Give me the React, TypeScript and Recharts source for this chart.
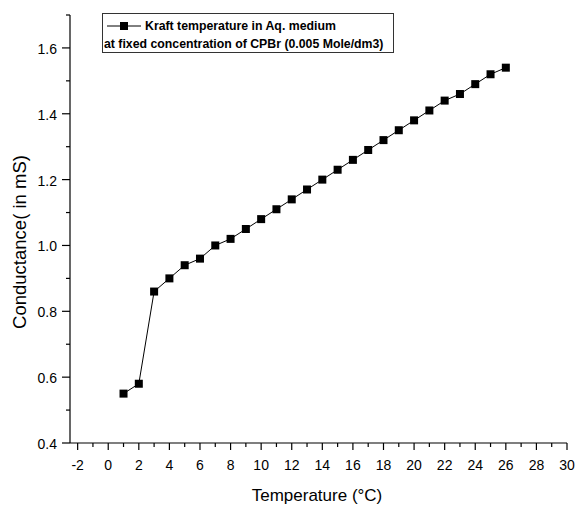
import { LineChart, Line, XAxis, YAxis } from 'recharts'

const temperatures = [1, 2, 3, 4, 5, 6, 7, 8, 9, 10, 11, 12, 13, 14, 15, 16, 17, 18, 19, 20, 21, 22, 23, 24, 25, 26]
const conductance = [
  0.55, 0.58, 0.86, 0.9, 0.94, 0.96, 1.0, 1.02, 1.05, 1.08, 1.11, 1.14, 1.17,
  1.2, 1.23, 1.26, 1.29, 1.32, 1.35, 1.38, 1.41, 1.44, 1.46, 1.49, 1.52, 1.54,
]
const xTicks = [-2, -1, 0, 1, 2, 3, 4, 5, 6, 7, 8, 9, 10, 11, 12, 13, 14, 15, 16, 17, 18, 19, 20, 21, 22, 23, 24, 25, 26, 27, 28, 29, 30]
const yTicks = [0.4, 0.5, 0.6, 0.7, 0.8, 0.9, 1.0, 1.1, 1.2, 1.3, 1.4, 1.5, 1.6, 1.7]
const legendLines = ['Kraft temperature in Aq. medium', 'at fixed concentration of CPBr (0.005 Mole/dm3)']

const data = temperatures.map((t, i) => ({ t, c: conductance[i] }))

const FONT = '"Liberation Sans", Arial, sans-serif'

function XTick({ x, y, payload }: any) {
  const v = payload.value
  const major = v % 2 === 0
  return (
    <g>
      <line x1={x} y1={y} x2={x} y2={y + (major ? 7 : 4)} stroke="#000" strokeWidth={1.2} />
      {major && (
        <text x={x} y={y + 27} textAnchor="middle" fontSize={14} fontFamily={FONT} fill="#000">
          {v}
        </text>
      )}
    </g>
  )
}

function YTick({ x, y, payload }: any) {
  const v = payload.value
  const major = Math.round(v * 10) % 2 === 0
  return (
    <g>
      <line x1={x} y1={y} x2={x - (major ? 8 : 4)} y2={y} stroke="#000" strokeWidth={1.2} />
      {major && (
        <text x={x - 13} y={y + 6} textAnchor="end" fontSize={14} fontFamily={FONT} fill="#000">
          {v.toFixed(1)}
        </text>
      )}
    </g>
  )
}

function SquareDot({ cx, cy }: any) {
  if (cx == null || cy == null) return null
  return <rect x={cx - 4} y={cy - 4} width={8} height={8} fill="#000" />
}

function YTitle() {
  return (
    <text
      x={19}
      y={242}
      transform="rotate(-90, 19, 242)"
      textAnchor="middle"
      dominantBaseline="central"
      fontSize={18.5}
      fontFamily={FONT}
      fill="#000"
    >
      Conductance( in mS)
    </text>
  )
}

function XTitle() {
  return (
    <text x={317} y={495} textAnchor="middle" dominantBaseline="central" fontSize={17} fontFamily={FONT} fill="#000">
      Temperature (°C)
    </text>
  )
}

export default function App() {
  return (
    <div style={{ position: 'absolute', left: 0, top: 0, width: 578, height: 507, background: '#fff' }}>
      <LineChart width={578} height={507} data={data} margin={{ top: 15, right: 11, bottom: 14, left: 0 }}>
        <XAxis
          dataKey="t"
          type="number"
          domain={[-2.5, 30]}
          ticks={xTicks}
          interval={0}
          height={50}
          tickSize={0}
          tickMargin={0}
          tick={<XTick />}
          axisLine={{ stroke: '#000', strokeWidth: 1.2 }}
          tickLine={false}
          allowDataOverflow
          label={{ content: <XTitle /> }}
        />
        <YAxis
          type="number"
          domain={[0.4, 1.7]}
          ticks={yTicks}
          interval={0}
          width={70}
          tickSize={0}
          tickMargin={0}
          tick={<YTick />}
          axisLine={{ stroke: '#000', strokeWidth: 1.2 }}
          tickLine={false}
          allowDataOverflow
          label={{ content: <YTitle /> }}
        />
        <Line
          dataKey="c"
          stroke="#000"
          strokeWidth={1}
          dot={<SquareDot />}
          activeDot={false}
          isAnimationActive={false}
        />
      </LineChart>
      <div
        style={{
          position: 'absolute',
          left: 102,
          top: 13,
          width: 292,
          height: 40,
          border: '1px solid #333',
          fontFamily: FONT,
          fontWeight: 'bold',
          fontSize: 12.3,
          lineHeight: '18px',
          paddingTop: 3,
          boxSizing: 'border-box',
          color: '#000',
          whiteSpace: 'nowrap',
        }}
      >
        <div style={{ display: 'flex', alignItems: 'center', paddingLeft: 4 }}>
          <svg width={36} height={10} style={{ marginRight: 2 }}>
            <line x1={0} y1={5} x2={34} y2={5} stroke="#000" strokeWidth={1} />
            <rect x={13} y={1} width={8} height={8} fill="#000" />
          </svg>
          <span>{legendLines[0]}</span>
        </div>
        <div style={{ paddingLeft: 1 }}>{legendLines[1]}</div>
      </div>
    </div>
  )
}
